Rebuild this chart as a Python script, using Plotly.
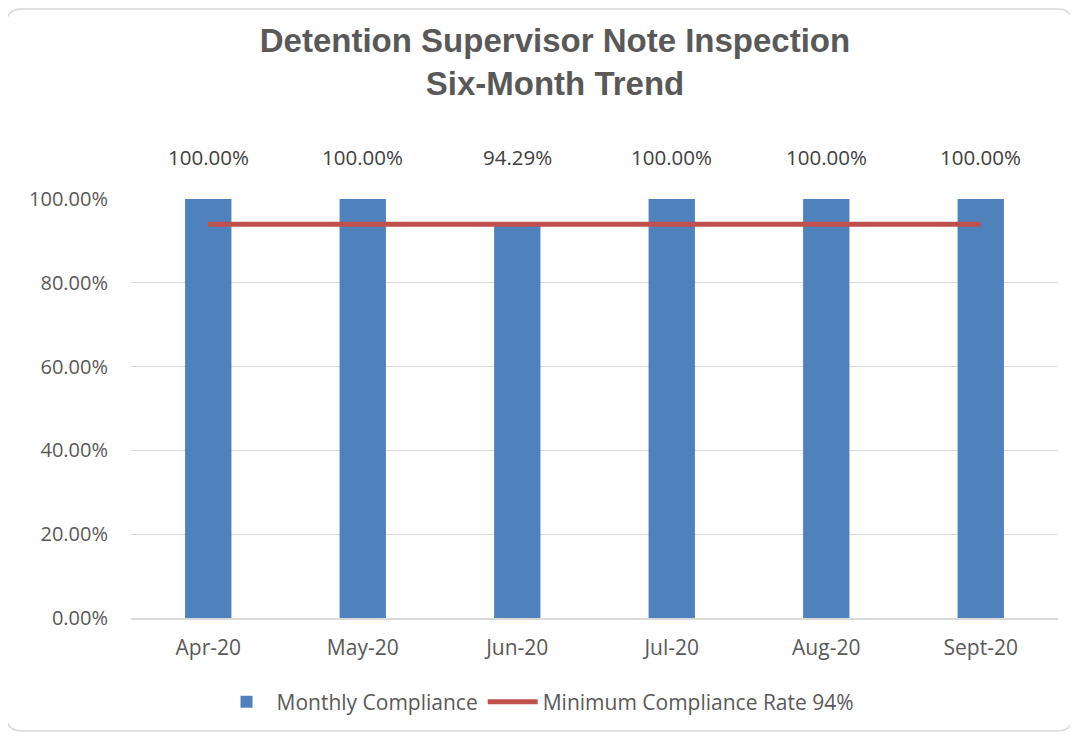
import plotly.graph_objects as go

months = ["Apr-20", "May-20", "Jun-20", "Jul-20", "Aug-20", "Sept-20"]
compliance = [1.0, 1.0, 0.9429, 1.0, 1.0, 1.0]
minimum_rate = [0.94, 0.94, 0.94, 0.94, 0.94, 0.94]
y_ticks = [0, 0.2, 0.4, 0.6, 0.8, 1.0]

OFF = 8  # page body margin
W, H = 1078 - OFF, 737 - OFF
PL, PR, PT, PB = 131, 1058, 199, 618  # plot area in page pixels
L, R, T, B = PL - OFF, 1078 - PR, PT - OFF, 737 - PB
pw, ph = PR - PL, PB - PT

def px_x(p):
    return (p - PL) / pw

def px_y(p):
    return (PB - p) / ph

FONT = "Open Sans, Liberation Sans, Arial"

fig = go.Figure()
fig.add_trace(go.Bar(
    x=months, y=compliance, name="Monthly Compliance",
    marker=dict(color="#4F81BD", line=dict(width=0)), width=0.3,
))
fig.add_trace(go.Scatter(
    x=months, y=minimum_rate, name="Minimum Compliance Rate 94%",
    mode="lines", line=dict(color="#C0504D", width=5),
))

# data labels (Excel places them above plot top)
for m, v in zip(months, compliance):
    fig.add_annotation(x=m, y=px_y(157), text=f"{v*100:.2f}%", showarrow=False,
                       font=dict(family=FONT, size=20.5, color="#404040"),
                       xref="x", yref="paper", yanchor="middle")

# rounded chart border
x0, x1 = px_x(6), px_x(1073)
y0, y1 = px_y(731), px_y(9)
rx, ry = 16 / pw, 16 / ph
path = (f"M {x0+rx},{y1} L {x1-rx},{y1} Q {x1},{y1} {x1},{y1-ry} "
        f"L {x1},{y0+ry} Q {x1},{y0} {x1-rx},{y0} L {x0+rx},{y0} "
        f"Q {x0},{y0} {x0},{y0+ry} L {x0},{y1-ry} Q {x0},{y1} {x0+rx},{y1} Z")
fig.add_shape(type="path", path=path, xref="paper", yref="paper",
              line=dict(color="#D9D9D9", width=1.5), layer="below")

fig.update_layout(
    width=W, height=H,
    margin=dict(l=L, r=R, t=T, b=B),
    paper_bgcolor="white", plot_bgcolor="white",
    title=dict(
        text="<b>Detention Supervisor Note Inspection<br>Six-Month Trend</b>",
        x=(555 - OFF) / W, xanchor="center", y=1 - 44 / H, yanchor="middle",
        font=dict(family="Liberation Sans, Arial", size=33, color="#595959"),
    ),
    xaxis=dict(
        showgrid=False, showline=True, linecolor="#D9D9D9", linewidth=1.5,
        ticks="", tickfont=dict(family=FONT, size=21, color="#595959"),
        ticklabelstandoff=10,
    ),
    yaxis=dict(
        range=[0, 1.0], tickvals=y_ticks, tickformat=".2%",
        showgrid=True, gridcolor="#D9D9D9", gridwidth=1, zeroline=False,
        showline=False, ticks="",
        tickfont=dict(family=FONT, size=20, color="#595959"),
        ticklabelstandoff=22,
    ),
    showlegend=True,
    legend=dict(
        orientation="h", x=px_x(538), xanchor="center", y=px_y(702), yanchor="middle",
        font=dict(family=FONT, size=21, color="#595959"),
        itemwidth=50, bgcolor="rgba(0,0,0,0)",
    ),
    bargap=0.7,
)

fig.write_html("out.html")
